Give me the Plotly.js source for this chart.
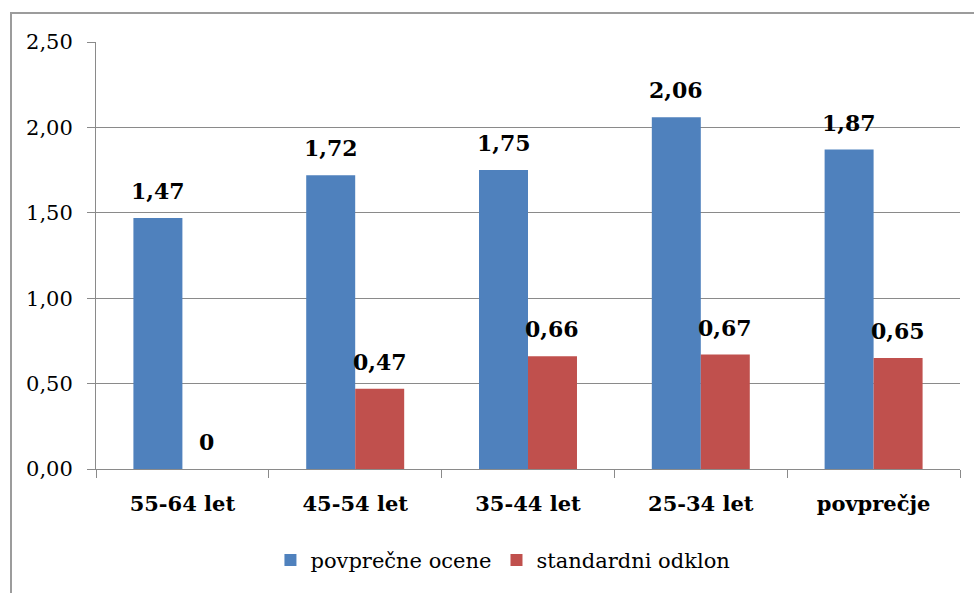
<!DOCTYPE html>
<html>
<head>
<meta charset="utf-8">
<script src="https://cdn.plot.ly/plotly-3.0.1.min.js"></script>
<style>
  html, body { margin: 0; padding: 0; background: #fff; overflow: hidden; }
  #chart { position: absolute; left: 0; top: 0; width: 974px; height: 593px; }
  #frame {
    position: absolute; left: 10px; top: 12px; width: 964px; height: 581px;
    border-top: 2px solid #9c9c9c; border-left: 2px solid #9c9c9c;
    box-sizing: border-box; pointer-events: none;
  }
</style>
</head>
<body>
<div id="chart"></div>
<div id="frame"></div>
<script>
// Age groups and overall average
const categories = ['55-64 let', '45-54 let', '35-44 let', '25-34 let', 'povprečje'];
// Mean score per group
const averageScores = [1.47, 1.72, 1.75, 2.06, 1.87];
// Standard deviation per group
const standardDeviations = [0, 0.47, 0.66, 0.67, 0.65];
const seriesNames = ['povprečne ocene', 'standardni odklon'];
const yTickValues = [0, 0.5, 1, 1.5, 2, 2.5];

const W = 974, H = 593;
const margin = { l: 96, r: 14, t: 42, b: 121 };
const BARGAP = 0.433;

const SERIF = 'DejaVu Serif';
const GRID = '#8a8a8a';
const BLUE = '#4F81BD';
const RED = '#C0504D';

const fmt = v => v === 0 ? '0' : v.toFixed(2).replace('.', ',');

const traces = [
  { type: 'bar', name: seriesNames[0], x: categories, y: averageScores,
    marker: { color: BLUE }, hoverinfo: 'skip' },
  { type: 'bar', name: seriesNames[1], x: categories, y: standardDeviations,
    marker: { color: RED }, hoverinfo: 'skip' }
];

// Value labels above each bar, shifted onto the bar's centre within its group
const plotW = W - margin.l - margin.r;
const barW = plotW / categories.length * (1 - BARGAP) / 2;
const annotations = [];
[averageScores, standardDeviations].forEach((vals, k) => {
  vals.forEach((v, i) => {
    annotations.push({
      x: categories[i], y: v, xref: 'x', yref: 'y',
      text: fmt(v), showarrow: false,
      xanchor: 'center', yanchor: 'middle',
      xshift: (k === 0 ? -1 : 1) * barW / 2, yshift: 27,
      font: { family: SERIF, size: 22, color: '#000', weight: 'bold' }
    });
  });
});

const layout = {
  width: W, height: H,
  margin: margin,
  paper_bgcolor: '#fff', plot_bgcolor: '#fff',
  separators: ', ',
  font: { family: SERIF, color: '#000' },
  barmode: 'group', bargap: BARGAP, bargroupgap: 0,
  showlegend: true,
  legend: {
    orientation: 'h', x: 0.471, xanchor: 'center', y: -0.214, yanchor: 'middle',
    font: { family: SERIF, size: 21, color: '#000' },
    itemwidth: 30, traceorder: 'normal'
  },
  xaxis: {
    type: 'category', showgrid: false, zeroline: false,
    showline: true, linecolor: GRID, linewidth: 1,
    ticks: 'outside', tickson: 'boundaries', ticklen: 8, tickcolor: GRID,
    ticklabelstandoff: 16,
    tickfont: { family: SERIF, size: 21, color: '#000', weight: 'bold' },
    fixedrange: true
  },
  yaxis: {
    range: [0, 2.5], tickvals: yTickValues, tickformat: '.2f',
    showgrid: true, gridcolor: GRID, gridwidth: 1, zeroline: false,
    showline: true, linecolor: GRID, linewidth: 1,
    ticks: 'outside', ticklen: 8, tickcolor: GRID,
    ticklabelstandoff: 10,
    tickfont: { family: SERIF, size: 21, color: '#000' },
    fixedrange: true
  },
  annotations: annotations
};

Plotly.newPlot('chart', traces, layout, { displayModeBar: false, staticPlot: true });
</script>
</body>
</html>
